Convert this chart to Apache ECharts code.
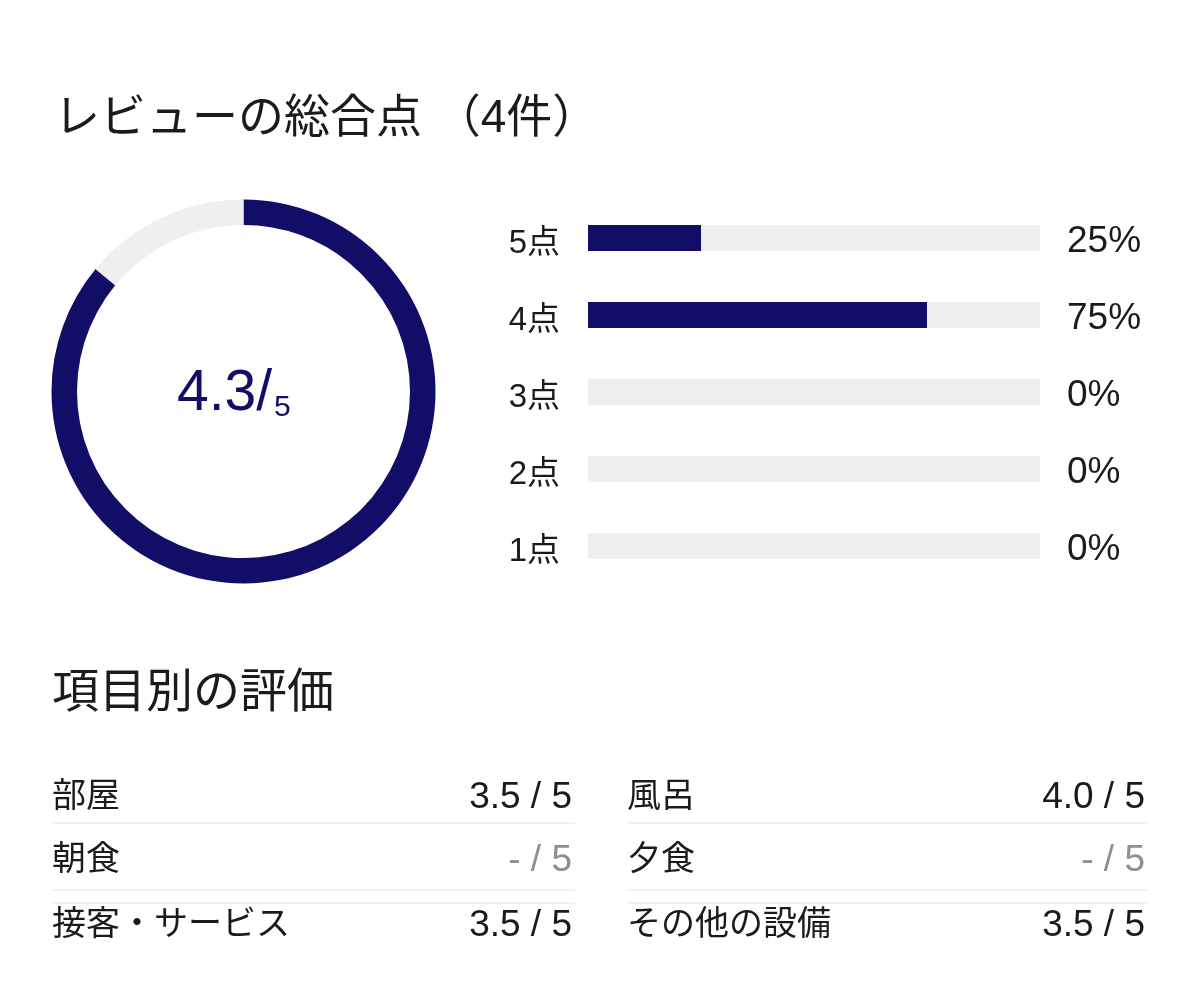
<!DOCTYPE html>
<html>
<head>
<meta charset="utf-8">
<script src="https://cdn.jsdelivr.net/npm/echarts@6/dist/echarts.min.js"></script>
<style>
html,body{margin:0;padding:0;background:#fff;}
#main{width:1200px;height:999px;}
</style>
</head>
<body>
<div id="main"></div>
<script>
// ---- data ----
const reviewCount = 4;
const overallScore = 4.3;
const maxScore = 5;
const ratingCategories = ['5点', '4点', '3点', '2点', '1点'];
const ratingShares = [25, 75, 0, 0, 0];
const itemLeftNames = ['部屋', '朝食', '接客・サービス'];
const itemLeftScores = [3.5, null, 3.5];
const itemRightNames = ['風呂', '夕食', 'その他の設備'];
const itemRightScores = [4.0, null, 3.5];

// ---- style ----
const NAVY = '#120d66';
const TRACK = '#efefef';
const INK = '#1b1b1b';
const MUTED = '#8f8f8f';
const FONT = '"Liberation Sans", "Noto Sans CJK JP", sans-serif';

const chart = echarts.init(document.getElementById('main'));

function fmtScore(s) { return (s == null ? '-' : s.toFixed(1)) + ' / ' + maxScore; }

const graphics = [];
graphics.push({
  type: 'text', silent: true,
  style: { text: 'レビューの総合点 （' + reviewCount + '件）', x: 54, y: 119, align: 'left', verticalAlign: 'middle',
    font: '400 46px ' + FONT, fill: INK }
});
graphics.push({
  type: 'text', silent: true,
  style: { text: '項目別の評価', x: 52, y: 694, align: 'left', verticalAlign: 'middle',
    font: '400 47px ' + FONT, fill: INK }
});
// center score
graphics.push({
  type: 'text', silent: true,
  style: { text: overallScore.toFixed(1) + '/', x: 272, y: 394, align: 'right', verticalAlign: 'middle',
    font: '400 57px ' + FONT, fill: NAVY }
});
graphics.push({
  type: 'text', silent: true,
  style: { text: String(maxScore), x: 274, y: 408, align: 'left', verticalAlign: 'middle',
    font: '400 30px ' + FONT, fill: NAVY }
});

// item table
const rowY = [798, 861, 926];
const lineY = [823, 890, 903];
const cols = [
  { x0: 52, x1: 575, names: itemLeftNames, scores: itemLeftScores },
  { x0: 627, x1: 1148, names: itemRightNames, scores: itemRightScores }
];
cols.forEach(c => {
  c.names.forEach((n, i) => {
    graphics.push({ type: 'text', silent: true,
      style: { text: n, x: c.x0, y: rowY[i], align: 'left', verticalAlign: 'middle', font: '400 34px ' + FONT, fill: INK } });
    graphics.push({ type: 'text', silent: true,
      style: { text: fmtScore(c.scores[i]), x: c.x1 - 3, y: rowY[i], align: 'right', verticalAlign: 'middle',
        font: '400 37px ' + FONT, fill: c.scores[i] == null ? MUTED : INK } });
  });
  lineY.forEach(y => {
    graphics.push({ type: 'line', silent: true, shape: { x1: c.x0, y1: y, x2: c.x1, y2: y },
      style: { stroke: '#f1f1f1', lineWidth: 2 } });
  });
});

const option = {
  animation: false,
  backgroundColor: '#ffffff',
  grid: { left: 588, right: 160, top: 199.5, height: 385 },
  xAxis: { type: 'value', min: 0, max: 100, show: false },
  yAxis: [
    { type: 'category', inverse: true, data: ratingCategories,
      axisLine: { show: false }, axisTick: { show: false }, splitLine: { show: false },
      axisLabel: { margin: 28, fontSize: 33, color: INK, fontFamily: FONT, verticalAlign: 'top', lineHeight: 12 } },
    { type: 'category', inverse: true, position: 'right', data: ratingCategories,
      axisLine: { show: false }, axisTick: { show: false }, splitLine: { show: false },
      axisLabel: { margin: 27, fontSize: 37, color: INK, fontFamily: FONT, verticalAlign: 'top', lineHeight: 8,
        formatter: (v, i) => ratingShares[i] + '%' } }
  ],
  series: [
    { type: 'bar', yAxisIndex: 0, data: ratingShares, barWidth: 26, silent: true,
      itemStyle: { color: NAVY },
      showBackground: true, backgroundStyle: { color: TRACK } },
    { type: 'pie', center: [243.5, 391.5], radius: [166.5, 192], startAngle: 90, clockwise: true,
      silent: true, label: { show: false }, labelLine: { show: false },
      data: [
        { value: overallScore, itemStyle: { color: NAVY } },
        { value: maxScore - overallScore, itemStyle: { color: TRACK } }
      ] }
  ],
  graphic: graphics
};
chart.setOption(option);
</script>
</body>
</html>
